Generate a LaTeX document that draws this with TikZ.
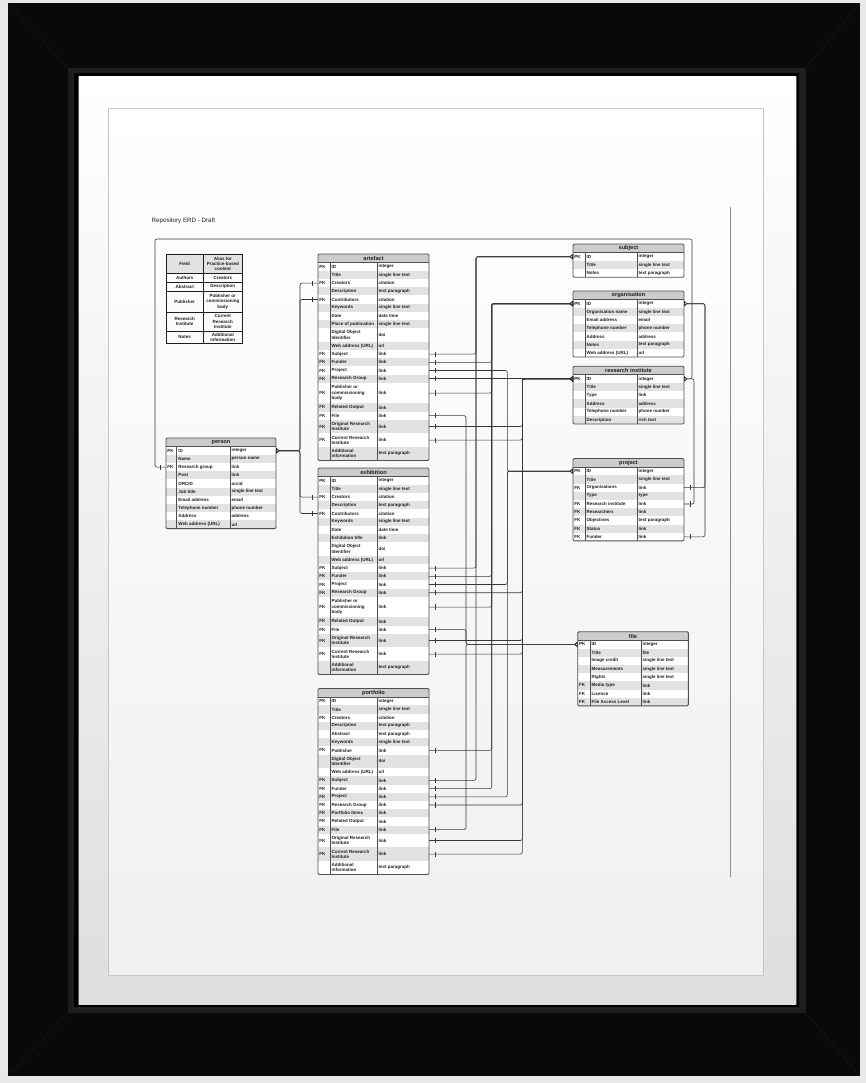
\documentclass[tikz,border=0pt]{standalone}
\usepackage{fontspec}
\setmainfont{Liberation Sans}
\usetikzlibrary{arrows.meta,positioning,calc,decorations.markings}

\definecolor{outerbg}{RGB}{232,232,232}
\definecolor{framebk}{RGB}{9,9,9}
\definecolor{miter}{RGB}{24,24,24}
\definecolor{bevel}{RGB}{30,30,30}
\definecolor{mattebot}{RGB}{222,222,222}
\definecolor{rowgray}{RGB}{226,226,226}
\definecolor{headgray}{RGB}{204,204,204}
\definecolor{edgegray}{RGB}{80,80,80}
\definecolor{linkgray}{RGB}{55,55,55}
\definecolor{inkgray}{RGB}{30,30,30}

\tikzset{
  erdhead/.style={fill=headgray, inner sep=0pt, outer sep=0pt, minimum height=8.6pt,
    font=\bfseries\fontsize{5.6}{6}\selectfont, text=inkgray},
  erdrow/.style={inner sep=0pt, outer sep=0pt},
  erdtext/.style={inner sep=0pt, align=left, text=inkgray,
    font=\bfseries\fontsize{4.5}{5.3}\selectfont},
  erdedge/.style={draw=edgegray, line width=0.9pt, rounded corners=1.2pt},
  erdcol/.style={draw=edgegray, line width=0.7pt},
  legcell/.style={draw=inkgray, line width=0.6pt, inner sep=0pt, outer sep=0pt, align=center,
    text=inkgray, font=\bfseries\fontsize{4.5}{5.3}\selectfont},
  fktick/.style={postaction={decorate, decoration={markings,
    mark=at position 6pt with {\draw[-, line width=0.6pt] (0,-2.6pt) -- (0,2.6pt);}}}},
  link/.style={draw=linkgray, line width=0.6pt, rounded corners=2pt,
    -{Triangle[reversed, open, length=3.4pt, width=5.4pt]}, fktick},
}

% #1 name, #2 title, #3 top left, #4 #5 #6 column widths, #7 rows key/pk/field/type/lines
\newcommand\erdtable[7]{%
  \node[erdhead, minimum width=#4pt+#5pt+#6pt, anchor=north west] (#1-head) at (#3) {#2};
  \foreach \rk/\pk/\fld/\typ/\nl [count=\rowi, remember=\rk as \prev (initially head)] in {#7} {
    \ifodd\rowi \def\rowfill{white}\else \def\rowfill{rowgray}\fi
    \ifcase\nl\or \def\rowh{8.2pt}\or \def\rowh{13.6pt}\or \def\rowh{20.5pt}\fi
    \node[erdrow, fill=\rowfill, minimum width=#4pt+#5pt+#6pt, minimum height=\rowh,
      below=0pt of #1-\prev] (#1-\rk) {};
    \node[erdtext, anchor=west] at ([xshift=1.2pt]#1-\rk.west) {\pk};
    \node[erdtext, anchor=west] at ([xshift=#4pt+1.5pt]#1-\rk.west) {\fld};
    \node[erdtext, anchor=west] at ([xshift=#4pt+#5pt+1.5pt]#1-\rk.west) {\typ};
    \draw[erdcol] ([xshift=#4pt]#1-\rk.north west) -- ([xshift=#4pt]#1-\rk.south west);
    \draw[erdcol] ([xshift=#4pt+#5pt]#1-\rk.north west) -- ([xshift=#4pt+#5pt]#1-\rk.south west);
    \xdef\lastrow{#1-\rk}
  }
  \draw[erdcol] (#1-head.south west) -- (#1-head.south east);
  \draw[erdedge] (#1-head.north west) rectangle (\lastrow.south east);
}

\begin{document}
\begin{tikzpicture}[x=1pt, y=-1pt]
    \useasboundingbox (0,0) rectangle (866,1083);

    % frame, matte and paper
    \fill[outerbg] (0,0) rectangle (866,1083);
    \fill[framebk] (8,3) rectangle (860,1076);
    \draw[miter, line width=0.5pt] (8,3) -- (68,68) (860,3) -- (806,68)
        (8,1076) -- (68,1013) (860,1076) -- (806,1013);
    \fill[bevel] (68,68) rectangle (806,1013);
    \fill[black] (74,73) rectangle (799,1007);
    \draw[black!65, line width=0.8pt] (78.5,76.5) rectangle (796,1004.5);
    \shade[top color=white, bottom color=mattebot] (79,77) rectangle (795.5,1004);
    \shade[top color=white, middle color=white, bottom color=black!6] (108,108) rectangle (763,975);
    \draw[black!22, line width=0.6pt] (108,108) rectangle (763,975);
    \draw[black!45, line width=0.8pt] (730,207) -- (730,877);

    \node[anchor=west, inner sep=0pt, text=inkgray, font=\fontsize{6.2}{7}\selectfont]
        (erdtitle) at (151.5,220.5) {Repository ERD - Draft};

    % legend
    \node[legcell, fill=rowgray, minimum width=37.3pt, minimum height=19pt, anchor=north west]
        (leg-head-f) at (166,254.3) {Field};
    \node[legcell, fill=rowgray, minimum width=39pt, minimum height=19pt, right=0pt of leg-head-f]
        (leg-head-a) {Alias for\\Practice-based\\content};
    \foreach \lk/\lf/\la/\lh [remember=\lk as \lprev (initially head)] in {
        authors/Authors/Creators/9pt,
        abstract/Abstract/Description/8.7pt,
        publisher/Publisher/{Publisher or\\commissioning\\body}/21.3pt,
        institute/{Research\\Institute}/{Current\\Research\\Institute}/18.7pt,
        notes/Notes/{Additional\\information}/12.3pt} {
      \node[legcell, minimum width=37.3pt, minimum height=\lh, below=0pt of leg-\lprev-f] (leg-\lk-f) {\lf};
      \node[legcell, minimum width=39pt, minimum height=\lh, right=0pt of leg-\lk-f] (leg-\lk-a) {\la};
    }

    % tables
    \erdtable{art}{artefact}{318,254}{12}{47}{52}{
        id/PK/ID/integer/1, title/{}/Title/single line text/1,
        creators/FK/Creators/citation/1, desc/{}/Description/text paragraph/1,
        contrib/FK/Contributors/citation/1, keywords/{}/Keywords/single line text/1,
        date/{}/Date/date time/1, place/{}/Place of publication/single line text/1,
        doi/{}/{Digital Object\\Identifier}/doi/2, web/{}/Web address (URL)/url/1,
        subject/FK/Subject/link/1, funder/FK/Funder/link/1,
        project/FK/Project/link/1, rg/FK/Research Group/link/1,
        publisher/FK/{Publisher or\\commissioning\\body}/link/3,
        related/FK/Related Output/link/1, file/FK/File/link/1,
        orig/FK/{Original Research\\Institute}/link/2,
        curr/FK/{Current Research\\Institute}/link/2,
        addinfo/{}/{Additional\\information}/text paragraph/2}

    \erdtable{exh}{exhibition}{318,468}{12}{47}{52}{
        id/PK/ID/integer/1, title/{}/Title/single line text/1,
        creators/FK/Creators/citation/1, desc/{}/Description/text paragraph/1,
        contrib/FK/Contributors/citation/1, keywords/{}/Keywords/single line text/1,
        date/{}/Date/date time/1, extitle/{}/Exhibition title/link/1,
        doi/{}/{Digital Object\\Identifier}/doi/2, web/{}/Web address (URL)/url/1,
        subject/FK/Subject/link/1, funder/FK/Funder/link/1,
        project/FK/Project/link/1, rg/FK/Research Group/link/1,
        publisher/FK/{Publisher or\\commissioning\\body}/link/3,
        related/FK/Related Output/link/1, file/FK/File/link/1,
        orig/FK/{Original Research\\Institute}/link/2,
        curr/FK/{Current Research\\Institute}/link/2,
        addinfo/{}/{Additional\\information}/text paragraph/2}

    \erdtable{por}{portfolio}{318,688.5}{12}{47}{52}{
        id/PK/ID/integer/1, title/{}/Title/single line text/1,
        creators/FK/Creators/citation/1, desc/{}/Description/text paragraph/1,
        abstract/{}/Abstract/text paragraph/1, keywords/{}/Keywords/single line text/1,
        publisher/FK/Publisher/link/1,
        doi/{}/{Digital Object\\Identifier}/doi/2, web/{}/Web address (URL)/url/1,
        subject/FK/Subject/link/1, funder/FK/Funder/link/1,
        project/FK/Project/link/1, rg/FK/Research Group/link/1,
        items/FK/Portfolio Items/link/1,
        related/FK/Related Output/link/1, file/FK/File/link/1,
        orig/FK/{Original Research\\Institute}/link/2,
        curr/FK/{Current Research\\Institute}/link/2,
        addinfo/{}/{Additional\\information}/text paragraph/2}

    \erdtable{per}{person}{166,438}{10.7}{53.3}{46}{
        id/PK/ID/integer/1, name/{}/Name/person name/1,
        rg/FK/Research group/link/1, post/{}/Post/link/1,
        orcid/{}/ORCID/orcid/1, job/{}/Job title/single line text/1,
        email/{}/Email address/email/1, phone/{}/Telephone number/phone number/1,
        address/{}/Address/address/1, web/{}/Web address (URL)/url/1}

    \erdtable{sub}{subject}{573,244}{12}{52}{47}{
        id/PK/ID/integer/1, title/{}/Title/single line text/1,
        notes/{}/Notes/text paragraph/1}

    \erdtable{org}{organisation}{573,291}{12}{52}{47}{
        id/PK/ID/integer/1, name/{}/Organisation name/single line text/1,
        email/{}/Email address/email/1, phone/{}/Telephone number/phone number/1,
        address/{}/Address/address/1, notes/{}/Notes/text paragraph/1,
        web/{}/Web address (URL)/url/1}

    \erdtable{ri}{research institute}{573,366.2}{12}{52}{47}{
        id/PK/ID/integer/1, title/{}/Title/single line text/1,
        type/{}/Type/link/1, address/{}/Address/address/1,
        phone/{}/Telephone number/phone number/1, desc/{}/Description/rich text/1}

    \erdtable{prj}{project}{573,458.5}{12}{52}{47}{
        id/PK/ID/integer/1, title/{}/Title/single line text/1,
        org/FK/Organisations/link/1, type/{}/Type/type/1,
        ri/FK/Research institute/link/1, researchers/FK/Researchers/link/1,
        objectives/FK/Objectives/text paragraph/1, status/FK/Status/link/1,
        funder/FK/Funder/link/1}

    \erdtable{fil}{file}{577.7,631.7}{12.3}{51}{47.3}{
        id/PK/ID/integer/1, title/{}/Title/file/1,
        credit/{}/Image credit/single line text/1, measure/{}/Measurements/single line text/1,
        rights/{}/Rights/single line text/1, media/FK/Media type/link/1,
        licence/FK/Licence/link/1, access/FK/File Access Level/link/1}

    % bus lines
    \coordinate (busper) at (300,0);
    \coordinate (busfil) at (466,0);
    \coordinate (bussub) at (476,0);
    \coordinate (busorg) at (491.7,0);
    \coordinate (busprj) at (507.3,0);
    \coordinate (busri) at (522.3,0);
    \coordinate (busrir) at (694,0);
    \coordinate (busorgr) at (705,0);
    \coordinate (loopnw) at (155,239);
    \coordinate (loopne) at (692,239);

    % relations
    \foreach \src in {art-creators,art-contrib,exh-creators,exh-contrib}
      \draw[link] (\src.west) -- (\src.west -| busper) |- (per-id.east);
    \draw[link] (per-rg.west) -| (loopnw) -- (loopne) |- (ri-id.east);
    \foreach \src in {prj-org,prj-funder}
      \draw[link] (\src.east) -- (\src.east -| busorgr) |- (org-id.east);
    \draw[link] (prj-ri.east) -- (prj-ri.east -| busrir) |- (ri-id.east);

    \foreach \src in {art-subject,exh-subject,por-subject}
      \draw[link] (\src.east) -- (\src.east -| bussub) |- (sub-id.west);
    \foreach \src in {art-funder,art-publisher,exh-funder,exh-publisher,por-publisher,por-funder}
      \draw[link] (\src.east) -- (\src.east -| busorg) |- (org-id.west);
    \foreach \src in {art-project,exh-project,por-project}
      \draw[link] (\src.east) -- (\src.east -| busprj) |- (prj-id.west);
    \draw[link] (art-rg.east) -- (art-rg.east -| ri-id.west);
    \foreach \src in {art-orig,art-curr,exh-rg,exh-orig,exh-curr,por-rg,por-orig,por-curr}
      \draw[link] (\src.east) -- (\src.east -| busri) |- (ri-id.west);
    \foreach \src in {art-file,exh-file,por-file}
      \draw[link] (\src.east) -- (\src.east -| busfil) |- (fil-id.west);
\end{tikzpicture}
\end{document}
